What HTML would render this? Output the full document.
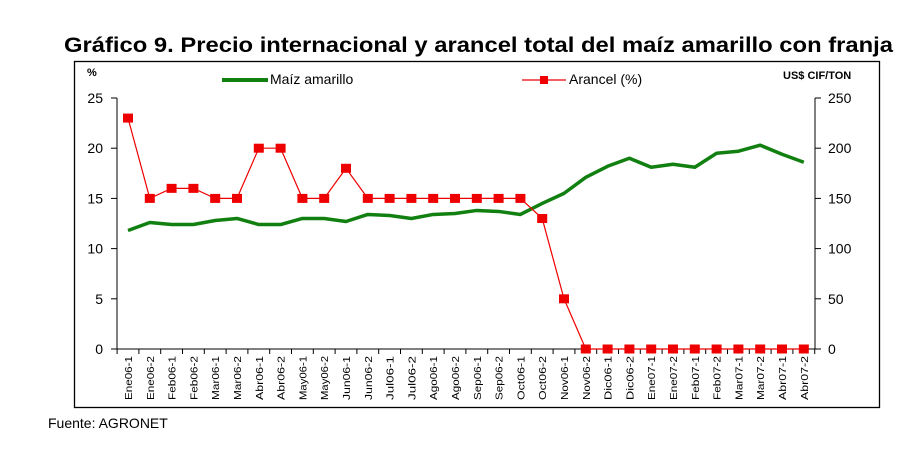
<!DOCTYPE html>
<html><head><meta charset="utf-8"><style>
html,body{margin:0;padding:0;background:#fff;}
svg{display:block;font-family:"Liberation Sans",Arial,sans-serif;}
</style></head><body>
<svg id="s" width="918" height="452" xmlns="http://www.w3.org/2000/svg">
<text x="64" y="52" font-size="21" font-weight="bold" textLength="829" lengthAdjust="spacingAndGlyphs">Gráfico 9. Precio internacional y arancel total del maíz amarillo con franja</text>
<rect x="74.5" y="61.5" width="805" height="346" fill="none" stroke="#000" stroke-width="1.3"/>
<text x="87" y="76" font-size="11" font-weight="bold">%</text>
<line x1="222" y1="80" x2="268" y2="80" stroke="#118011" stroke-width="4"/>
<text x="270" y="84" font-size="14">Maíz amarillo</text>
<line x1="522" y1="80" x2="566" y2="80" stroke="#e00" stroke-width="1.2"/>
<rect x="540" y="76" width="8" height="8" fill="#e00"/>
<text x="569" y="84" font-size="14">Arancel (%)</text>
<text x="783" y="79" font-size="11" font-weight="bold">US$ CIF/TON</text>
<g id="g"></g>
<text x="48" y="428" font-size="14">Fuente: AGRONET</text>
</svg>
<script>
var g=document.getElementById('g'),h='';
var L=117,R=815,Y0=349,k=10.04,x0=128,st=21.8;
function y(v){return Y0-v*k;}
h+='<line x1="'+L+'" y1="98" x2="'+L+'" y2="'+Y0+'" stroke="#000"/>';
h+='<line x1="'+R+'" y1="98" x2="'+R+'" y2="'+Y0+'" stroke="#000"/>';
h+='<line x1="'+L+'" y1="'+Y0+'" x2="'+R+'" y2="'+Y0+'" stroke="#000"/>';
for(var i=0;i<=5;i++){var yy=y(i*5);
h+='<line x1="'+(L-6)+'" y1="'+yy+'" x2="'+L+'" y2="'+yy+'" stroke="#000"/>';
h+='<line x1="'+R+'" y1="'+yy+'" x2="'+(R+6)+'" y2="'+yy+'" stroke="#000"/>';
h+='<text x="'+(L-14)+'" y="'+(yy+5)+'" font-size="14" text-anchor="end">'+(i*5)+'</text>';
h+='<text x="'+(R+13)+'" y="'+(yy+5)+'" font-size="14">'+(i*50)+'</text>';}
var labs=[];var ms=['Ene06','Feb06','Mar06','Abr06','May06','Jun06','Jul06','Ago06','Sep06','Oct06','Nov06','Dic06','Ene07','Feb07','Mar07','Abr07'];
ms.forEach(function(m){labs.push(m+'-1');labs.push(m+'-2');});
for(var i=0;i<=32;i++){var xx=x0-st/2+i*st;h+='<line x1="'+xx+'" y1="'+Y0+'" x2="'+xx+'" y2="'+(Y0+5)+'" stroke="#000"/>';}
for(var i=0;i<32;i++){var xx=x0+i*st+4;h+='<text transform="translate('+xx+',400) rotate(-90)" font-size="10" textLength="44" lengthAdjust="spacingAndGlyphs">'+labs[i]+'</text>';}
var gr=[11.8,12.6,12.4,12.4,12.8,13,12.4,12.4,13,13,12.7,13.4,13.3,13,13.4,13.5,13.8,13.7,13.4,14.5,15.5,17.1,18.2,19,18.1,18.4,18.1,19.5,19.7,20.3,19.4,18.6];
var rd=[23,15,16,16,15,15,20,20,15,15,18,15,15,15,15,15,15,15,15,13,5,0,0,0,0,0,0,0,0,0,0,0];
var p='';gr.forEach(function(v,i){p+=(x0+i*st)+','+y(v)+' ';});
h+='<polyline points="'+p+'" fill="none" stroke="#118011" stroke-width="3.5" stroke-linejoin="round"/>';
p='';rd.forEach(function(v,i){p+=(x0+i*st)+','+y(v)+' ';});
h+='<polyline points="'+p+'" fill="none" stroke="#e00" stroke-width="1.2"/>';
rd.forEach(function(v,i){h+='<rect x="'+(x0+i*st-5)+'" y="'+(y(v)-4.5)+'" width="10" height="9" fill="#e00"/>';});
g.innerHTML=h;
</script>
</body></html>
